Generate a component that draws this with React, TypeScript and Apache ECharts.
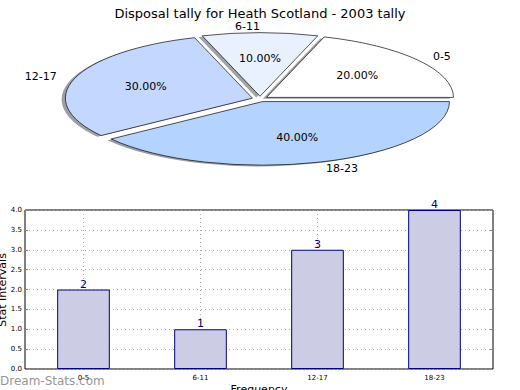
import React, { useEffect, useRef } from "react";
import * as echarts from "echarts";

const pieLabels = ["0-5", "6-11", "12-17", "18-23"];
const pieValues = [20, 10, 30, 40];
const pieColors = ["#ffffff", "#e9f1ff", "#c4d8ff", "#b4d4ff"];

const barCategories = ["0-5", "6-11", "12-17", "18-23"];
const barValues = [2, 1, 3, 4];
const yTicks = [0, 0.5, 1, 1.5, 2, 2.5, 3, 3.5, 4];

const CX = 260;
const CY = 99;
const R = 187;
const RY = 63.5;
const SY = RY / R;
const EXPLODE = 8;
const FONT = "DejaVu Sans";

function sliceGeom(i: number) {
  const total = pieValues.reduce((a, b) => a + b, 0);
  let acc = 0;
  for (let k = 0; k < i; k++) acc += pieValues[k];
  const t1 = (acc / total) * Math.PI * 2;
  const t2 = ((acc + pieValues[i]) / total) * Math.PI * 2;
  const mid = (t1 + t2) / 2;
  const dx = EXPLODE * Math.cos(mid);
  const dy = -EXPLODE * Math.sin(mid) * SY;
  return { t1, t2, mid, dx, dy, pct: (pieValues[i] / total) * 100 };
}

function shade(hex: string, f: number) {
  const n = parseInt(hex.slice(1), 16);
  const r = Math.round(((n >> 16) & 255) * f);
  const g = Math.round(((n >> 8) & 255) * f);
  const b = Math.round((n & 255) * f);
  return `rgba(${r},${g},${b},0.5)`;
}

export default function App() {
  const ref = useRef<HTMLDivElement>(null);
  useEffect(() => {
    const chart = echarts.init(ref.current!, null, { renderer: "svg" });
    const pieData = pieValues.map((v, i) => ({ name: pieLabels[i], value: v }));
    chart.setOption({
      animation: false,
      backgroundColor: "#ffffff",
      title: {
        text: "Disposal tally for Heath Scotland - 2003 tally",
        left: "center",
        top: 2,
        textStyle: { fontFamily: FONT, fontSize: 13, fontWeight: "normal", color: "#000" },
      },
      grid: {
        left: 25,
        right: 27,
        top: 210,
        bottom: 21,
        show: true,
        borderColor: "#000",
        borderWidth: 1,
        backgroundColor: "transparent",
      },
      xAxis: {
        type: "category",
        data: barCategories,
        boundaryGap: true,
        axisLine: { show: false },
        axisTick: { show: false },
        axisLabel: { fontFamily: FONT, fontSize: 7, color: "#000", margin: 5 },
        splitLine: {
          show: true,
          alignWithLabel: true,
          lineStyle: { type: [1, 3], color: "#aaaaaa", width: 1 },
        } as any,
      },
      yAxis: [
        {
          type: "value",
          min: 0,
          max: 4,
          interval: 0.5,
          axisLine: { show: false },
          axisTick: { show: true, inside: true, length: 3, lineStyle: { color: "#888" } },
          axisLabel: {
            fontFamily: FONT,
            fontSize: 7,
            color: "#000",
            margin: 3,
            formatter: (v: number) => yTicks.includes(v) ? v.toFixed(1) : "",
          },
          splitLine: { show: true, lineStyle: { type: [1, 3], color: "#aaaaaa", width: 1 } },
        },
        {
          type: "value",
          min: 0,
          max: 4,
          interval: 0.5,
          position: "right",
          axisLine: { show: false },
          axisTick: { show: true, inside: true, length: 3, lineStyle: { color: "#888" } },
          axisLabel: { show: false },
          splitLine: { show: false },
        },
      ],
      series: [
        {
          type: "custom",
          coordinateSystem: "none",
          z: 1,
          data: pieData,
          renderItem: (params: any) => {
            const i = params.dataIndex;
            const g = sliceGeom(i);
            return {
              type: "group",
              x: CX + g.dx - 0.02 * R,
              y: CY + g.dy + 0.02 * RY,
              scaleY: SY,
              children: [
                {
                  type: "sector",
                  shape: { cx: 0, cy: 0, r: R, r0: 0, startAngle: -g.t2, endAngle: -g.t1, clockwise: true },
                  style: { fill: shade(pieColors[i], 0.3), stroke: "none" },
                },
              ],
            };
          },
        },
        {
          type: "custom",
          coordinateSystem: "none",
          z: 2,
          data: pieData,
          renderItem: (params: any) => {
            const i = params.dataIndex;
            const g = sliceGeom(i);
            const c = Math.cos(g.mid);
            const s = Math.sin(g.mid);
            const ox = CX + g.dx;
            const oy = CY + g.dy;
            return {
              type: "group",
              children: [
                {
                  type: "group",
                  x: ox,
                  y: oy,
                  scaleY: SY,
                  children: [
                    {
                      type: "sector",
                      shape: { cx: 0, cy: 0, r: R, r0: 0, startAngle: -g.t2, endAngle: -g.t1, clockwise: true },
                      style: { fill: pieColors[i], stroke: "#000", lineWidth: 1, strokeNoScale: true },
                    },
                  ],
                },
                {
                  type: "text",
                  x: ox + 1.1 * R * c,
                  y: oy - 1.1 * RY * s,
                  style: {
                    text: pieLabels[i],
                    fontFamily: FONT,
                    fontSize: 11,
                    fill: "#000",
                    align: c > 1e-9 ? "left" : "right",
                    verticalAlign: "middle",
                  },
                },
                {
                  type: "text",
                  x: ox + 0.6 * R * c,
                  y: oy - 0.6 * RY * s,
                  style: {
                    text: g.pct.toFixed(2) + "%",
                    fontFamily: FONT,
                    fontSize: 11,
                    fill: "#000",
                    align: "center",
                    verticalAlign: "middle",
                  },
                },
              ],
            };
          },
        },
        {
          type: "bar",
          data: barValues,
          barWidth: "45%",
          itemStyle: { color: "#ccccE5", borderColor: "#000080", borderWidth: 1 },
          label: {
            show: true,
            position: "top",
            distance: 0,
            fontFamily: FONT,
            fontSize: 11,
            color: "#000080",
          },
          z: 3,
        },
      ],
      graphic: [
        {
          type: "text",
          x: 2,
          y: 290,
          rotation: Math.PI / 2,
          style: {
            text: "Stat Intervals",
            fontFamily: FONT,
            fontSize: 11,
            fill: "#000",
            align: "center",
            verticalAlign: "middle",
          },
        },
        {
          type: "text",
          x: 259,
          y: 384,
          style: {
            text: "Frequency",
            fontFamily: FONT,
            fontSize: 11,
            fill: "#000",
            align: "center",
            verticalAlign: "top",
          },
        },
        {
          type: "text",
          x: 0,
          y: 381,
          z: 100,
          style: {
            text: "Dream-Stats.com",
            fontFamily: FONT,
            fontSize: 12,
            fill: "rgba(120,120,120,0.8)",
            align: "left",
            verticalAlign: "middle",
          },
        },
      ],
    });
    return () => chart.dispose();
  }, []);
  return (
    <div
      ref={ref}
      style={{ position: "absolute", left: 0, top: 0, width: 520, height: 390 }}
    />
  );
}
